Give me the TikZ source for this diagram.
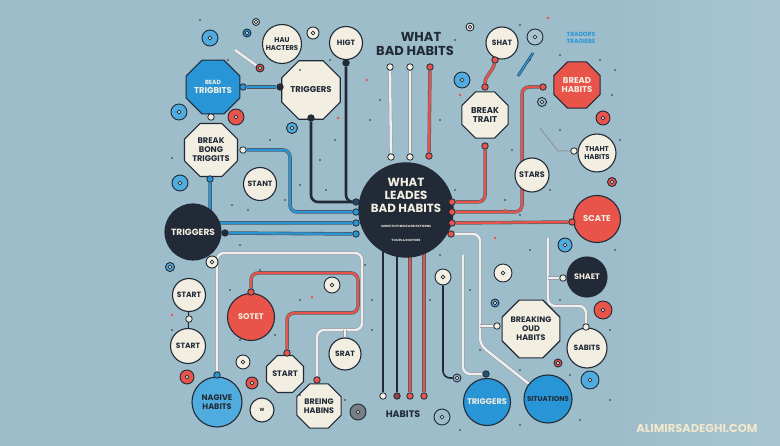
\documentclass[tikz,border=0pt]{standalone}
\usepackage{fontspec}
\setmainfont{Poppins}
\usetikzlibrary{shapes.geometric,calc}
\definecolor{bgblue}{RGB}{158,189,203}
\definecolor{bgpale}{RGB}{168,197,209}
\definecolor{ink}{RGB}{33,42,54}
\definecolor{cream}{RGB}{243,238,226}
\definecolor{hot}{RGB}{232,84,74}
\definecolor{sky}{RGB}{40,150,214}
\definecolor{skylt}{RGB}{80,172,222}
\definecolor{wire}{RGB}{238,240,240}
\definecolor{wmark}{RGB}{242,232,204}
\pgfdeclarelayer{bg}
\pgfdeclarelayer{wires}
\pgfsetlayers{bg,wires,main}
\tikzset{
  lbl/.style={font=\bfseries\fontsize{7.6}{8.4}\selectfont, align=center, text=ink, inner sep=0pt},
  bub/.style={circle, draw=ink, line width=1.1pt, fill=cream, lbl},
  oct/.style={regular polygon, regular polygon sides=8, draw=ink, line width=1.1pt,
              fill=cream, lbl, font=\bfseries\fontsize{8.5}{9.4}\selectfont},
  hotbub/.style={bub, fill=hot, text=cream},
  skybub/.style={bub, fill=sky, text=cream},
  inkbub/.style={bub, fill=ink, text=cream},
  knob/.style={circle, draw=ink, line width=0.8pt, fill=#1, minimum size=6.5pt, inner sep=0pt},
  knob/.default=cream,
  disc/.style={circle, draw=ink, line width=0.9pt, fill=#1, inner sep=0pt,
    path picture={\draw[ink, line width=0.7pt, fill=cream] (path picture bounding box.center) circle[radius=1.8pt];}},
  inkw/.style={draw=ink, line width=2.6pt, rounded corners=7pt},
  hotw/.style={draw=ink!75, line width=0.6pt, double=hot, double distance=2.3pt, rounded corners=7pt},
  skyw/.style={draw=ink!80, line width=0.6pt, double=sky, double distance=2.3pt, rounded corners=7pt},
  whw/.style={draw=ink!45, line width=0.6pt, double=wire, double distance=2.3pt, rounded corners=7pt},
}

\begin{document}
\begin{tikzpicture}[x=1pt,y=-1pt]
  \begin{pgfonlayer}{bg}
    \fill[bgblue] (0,0) rectangle (780,446);
    \shade[left color=bgblue, right color=bgpale] (620,0) rectangle (780,446);
  \end{pgfonlayer}
  \useasboundingbox (0,0) rectangle (780,446);

  % title and centre
  \node[font=\bfseries\fontsize{13}{13}\selectfont, text=ink] (ttl1) at (421,37) {WHAT};
  \node[font=\bfseries\fontsize{13}{13}\selectfont, text=ink] (ttl2) at (415,51) {BAD HABITS};
  \node[inkbub, minimum size=92pt, font=\bfseries\fontsize{11.8}{12.6}\selectfont] (hub) at (406,210)
    {WHAT\\LEADES\\BAD HABITS\\[3pt]{\fontsize{3}{4}\selectfont SUBSTITUTE BEHAVIOR PATTERNS}\\[1pt]{\fontsize{3}{4}\selectfont 5 CUES \& ROUTINES}};
  \node[font=\bfseries\fontsize{6}{6.5}\selectfont, text=sky, align=center] (tt) at (581,38) {TRADORS\\TRAGIERE};
  \node[font=\bfseries\fontsize{9.5}{10}\selectfont, text=ink] (hb) at (403,414) {HABITS};
  \node[font=\bfseries\fontsize{11.5}{12}\selectfont, text=wmark] (site) at (697,428) {ALIMIRSADEGHI.COM};

  % left side
  \node[bub, minimum size=39pt, font=\bfseries\fontsize{7}{7.8}\selectfont] (hh) at (282,44) {HAU\\HACTERS};
  \node[bub, minimum size=33pt] (hg) at (346,43) {HIGT};
  \node[oct, fill=sky, text=cream, minimum size=58pt] (bt) at (213,87) {{\fontsize{6}{6.5}\selectfont BEAD}\\TRIGBITS};
  \node[oct, minimum size=50pt] (tr) at (311,90) {TRIGGERS};
  \node[oct, minimum size=56pt, font=\bfseries\fontsize{8.2}{9}\selectfont] (bb) at (211,150) {BREAK\\BONG\\TRIGGITS};
  \node[bub, minimum size=33pt] (stt) at (260,184) {STANT};
  \node[inkbub, minimum size=56pt, font=\bfseries\fontsize{9}{9.5}\selectfont] (tg) at (193,232) {TRIGGERS};
  \node[bub, minimum size=33pt] (s1) at (189,295) {START};
  \node[bub, minimum size=35pt] (s2) at (188,346) {START};
  \node[hotbub, minimum size=47pt, font=\bfseries\fontsize{8.2}{9}\selectfont] (so) at (251,317) {SOTET};
  \node[bub, fill=skylt, minimum size=50pt, font=\bfseries\fontsize{8}{9}\selectfont] (nh) at (217,402) {NAGIVE\\HABITS};
  \node[bub, minimum size=24pt] (w) at (262,410) {\fontsize{4.5}{4.5}\selectfont W};
  \node[oct, minimum size=40pt, font=\bfseries\fontsize{8}{9}\selectfont] (st3) at (285,374) {START};
  \node[oct, minimum size=48pt, font=\bfseries\fontsize{8}{9}\selectfont] (bh) at (319,406) {BREING\\HABINS};
  \node[bub, minimum size=32pt] (sr) at (345,354) {SRAT};

  % right side
  \node[bub, minimum size=32pt] (sh) at (502,43) {SHAT};
  \node[oct, minimum size=50pt] (bk) at (485,115) {BREAK\\TRAIT};
  \node[oct, fill=hot, text=cream, minimum size=50pt] (bd) at (577,85) {BREAD\\HABITS};
  \node[bub, minimum size=38pt, font=\bfseries\fontsize{7}{8}\selectfont] (th) at (597,153) {THAHT\\HABITS};
  \node[bub, minimum size=34pt, font=\bfseries\fontsize{8}{9}\selectfont] (sa) at (532,175) {STARS};
  \node[hotbub, minimum size=47pt, font=\bfseries\fontsize{8.5}{9}\selectfont] (sc) at (597,219) {SCATE};
  \node[inkbub, minimum size=40pt, font=\bfseries\fontsize{8}{9}\selectfont] (se) at (587,277) {SHAET};
  \node[oct, minimum size=55pt, font=\bfseries\fontsize{8}{9}\selectfont] (bo) at (531,329) {BREAKING\\OUD\\HABITS};
  \node[bub, minimum size=40pt, font=\bfseries\fontsize{7.6}{8}\selectfont] (sb) at (587,348) {SABITS};
  \node[skybub, minimum size=47pt, font=\bfseries\fontsize{8.2}{9}\selectfont] (tb) at (487,402) {TRIGGERS};
  \node[skybub, text=ink, minimum size=48pt, font=\bfseries\fontsize{7}{8}\selectfont] (si) at (548,399) {SITUATIONS};

  % pins
  \node[knob=sky] (btr) at (243,87) {};
  \node[knob=ink] (trl) at (280,87) {};
  \node[knob] (btd) at (211,117) {};
  \node[knob=ink] (trd) at (311,118) {};
  \node[knob=ink] (hgd) at (346,63) {};
  \node[knob] (bbr) at (243,150) {};
  \node[knob=sky] (bbd) at (210,179) {};
  \node[knob=ink] (tgr) at (225,233) {};
  \node[knob=ink!70!sky] (L1) at (356,202) {};
  \node[knob=sky] (L2) at (356,212) {};
  \node[knob=sky] (L3) at (356,223) {};
  \node[knob=sky] (L4) at (356,234) {};
  \node[knob=hot] (R1) at (452,202) {};
  \node[knob=hot] (R2) at (452,212) {};
  \node[knob=hot] (R3) at (452,223) {};
  \node[knob=hot] (R4) at (451,234) {};
  \node[knob] (t1) at (390,67) {};
  \node[knob] (t2) at (410,67) {};
  \node[knob=hot] (t3) at (430,67) {};
  \node[knob] (u1) at (391,157) {};
  \node[knob] (u2) at (410,157) {};
  \node[knob=hot] (u3) at (429,156) {};
  \node[knob] (b1) at (383,396) {};
  \node[knob=hot!55!ink] (b2) at (397,396) {};
  \node[knob=hot] (b3) at (410,396) {};
  \node[knob=hot] (b4) at (424,396) {};
  \node[knob=hot] (sht) at (495,60) {};
  \node[knob=hot] (bkt) at (485,87) {};
  \node[knob=hot] (bkd) at (485,146) {};
  \node[knob=hot] (bdl) at (543,87) {};
  \node[knob=hot] (scl) at (572,222) {};
  \node[knob] (thl) at (574,151) {};
  \node[knob] (sel) at (563,278) {};
  \node[knob] (sbt) at (586,327) {};
  \node[knob] (bol) at (497,326) {};
  \node[knob=ink!60!sky] (tbt) at (486,374) {};
  \node[knob=hot] (sot) at (251,292) {};
  \node[knob=hot] (st3t) at (287,353) {};
  \node[knob=hot] (bht) at (317,380) {};
  \node[knob=sky] (nht) at (217,375) {};
  \node[knob] (s12) at (189,319) {};
  \coordinate (srj) at (345,330);
  \coordinate (boj) at (480,326);
  \coordinate (jt) at (463,255);
  \coordinate (wj) at (548,238);
  \coordinate (sej) at (548,278);
  \coordinate (thj) at (540,128);

  % rings
  \foreach \x/\y/\s/\c [count=\i] in {
    210/38/16/skylt, 247/33/8/sky, 256/22/7/cream, 313/33/12/cream, 179/112/16/skylt,
    236/117/16/hot, 292/128/11/skylt, 260/68/8/hot, 470/27/8/cream, 462/80/16/skylt,
    535/37/16/bgpale, 542/102/9/bgblue, 603/118/14/hot, 180/183/16/skylt, 212/262/12/cream,
    170/267/9/skylt, 332/285/16/cream, 565/245/14/skylt, 503/273/18/cream, 443/277/16/cream,
    612/182/9/hot, 187/377/14/hot, 243/362/14/cream, 252/383/12/hot, 358/412/16/ink!60,
    495/303/8/skylt, 603/310/18/hot, 590/380/18/skylt, 442/417/16/bgblue, 558/363/8/hot,
    457/378/8/bgblue}
    \node[disc=\c, minimum size=\s pt] (r\i) at (\x,\y) {};

  % speckles
  \foreach \x/\y in {
    200/20, 228/60, 300/70, 330/60, 270/140, 335/140, 320/160, 285/200, 300/185,
    232/205, 248/210, 326/190, 172/158, 240/245, 260/270, 300/300, 230/290,
    172/330, 240/340, 275/335, 300/395, 345/400, 372/300, 372/330, 430/300,
    455/40, 520/25, 530/60, 560/55, 600/60, 612/95, 560/130, 620/140, 512/150,
    550/190, 520/215, 530/250, 615/250, 560/300, 610/330, 470/290, 480/350,
    520/370, 570/375, 610/400, 520/425, 460/430, 580/420, 455/190, 505/200,
    370/120, 440/120, 380/100, 615/70, 365/265, 440/255}
    \fill[ink] (\x,\y) circle (0.9pt);
  \foreach \x/\y in {548/18, 367/80, 338/118, 495/238, 312/297, 172/315, 460/95, 505/210}
    \fill[hot] (\x,\y) circle (1.3pt);

  \begin{pgfonlayer}{wires}
    \draw[skyw] (btr) -- (trl);
    \draw[inkw] (hgd) |- (L1);
    \draw[inkw] (trd) |- (L1);
    \draw[skyw] (bbr) -- (290,150) |- (L2);
    \draw[skyw] (bbd) |- (L3);
    \draw[skyw] (tgr) -- (L4);
    \draw[whw] (nht) |- (362,253) -- (362,330) -| (bht);
    \draw[whw] (sr) -- (srj);
    \draw[hotw] (sot) |- (358,273) -- (358,313) -| (st3t);
    \draw[ink, line width=1pt] (s1) -- (s2);
    \draw[whw] (t1) -- (u1);
    \draw[whw] (t2) -- (u2);
    \draw[hotw] (t3) -- (u3);
    \draw[inkw] (b1) -- (b1 |- hub.center);
    \draw[inkw] (b2) -- (b2 |- hub.center);
    \draw[hotw, rounded corners=0pt] (b3) -- (b3 |- hub.center);
    \draw[hotw, rounded corners=0pt] (b4) -- (b4 |- hub.center);
    \draw[hotw] (bkd) |- (R1);
    \draw[hotw] (bdl) -- (522,87) |- (R2);
    \draw[hotw] (R3) -- (scl);
    \draw[whw] (R4) -- (480,234) -- (480,345) -- (si);
    \draw[whw] (bol) -- (boj);
    \draw[whw] (jt) |- (tbt);
    \draw[inkw, line width=1.6pt] (r20) |- (r31);
    \draw[hotw] (sht) to[out=-100,in=90] (bkt);
    \draw[whw] (wj) |- (586,306) -- (sbt);
    \draw[whw] (sel) -- (sej);
    \draw[ink!50, line width=1pt] (thl) -- (558,151) -- (thj);
    \draw[whw] (235,50) -- (r8);
    \draw[draw=ink, line width=0.5pt, double=sky, double distance=1.6pt] (533,53) -- (518,76);
  \end{pgfonlayer}
\end{tikzpicture}
\end{document}
